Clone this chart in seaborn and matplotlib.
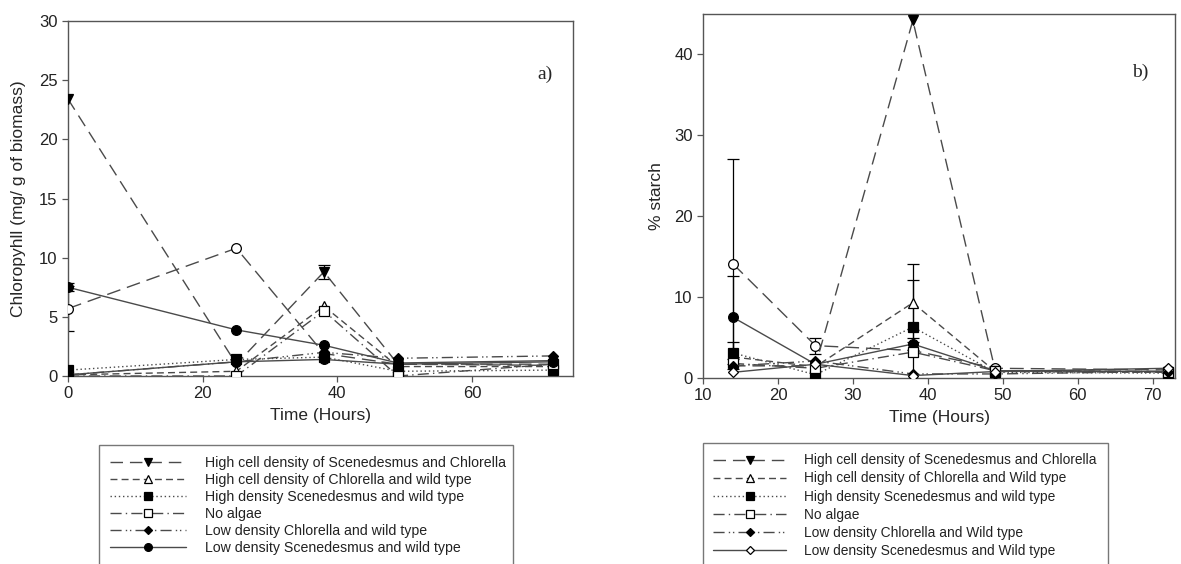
import numpy as np
import pandas as pd
import matplotlib
matplotlib.use("Agg")
import matplotlib.pyplot as plt
import seaborn as sns

# ---- data: a) chlorophyll ----
time_a = [0, 25, 38, 49, 72]
a_hi_scen_chl = [23.4, 1.0, 8.8, 1.0, 1.0]
a_hi_chl_wt = [0.1, 0.4, 5.9, 0.8, 0.8]
a_hi_scen_wt = [0.5, 1.4, 1.6, 0.4, 0.5]
a_no_algae = [0.0, 0.0, 5.5, 0.0, 1.0]
a_lo_chl_wt = [0.1, 1.2, 2.0, 1.5, 1.7]
a_lo_scen_wt = [0.1, 1.2, 1.4, 1.0, 1.2]
a_extra_fill = [7.5, 3.9, 2.6, 1.1, 1.3]
a_extra_open = [5.7, 10.8, 1.9, 1.0, 0.9]

# ---- data: b) starch ----
time_b = [14, 25, 38, 49, 72]
b_hi_scen_chl = [1.5, 1.5, 44.2, 0.9, 0.8]
b_hi_chl_wt = [2.6, 1.4, 9.3, 0.8, 0.7]
b_hi_scen_wt = [3.1, 0.4, 6.3, 0.7, 0.6]
b_no_algae = [1.8, 1.2, 3.2, 0.9, 0.8]
b_lo_chl_wt = [1.5, 2.1, 0.5, 0.5, 0.8]
b_lo_scen_wt = [0.7, 1.7, 0.3, 0.8, 1.2]
b_extra_fill = [7.5, 1.7, 4.2, 0.9, 0.8]
b_extra_open = [14.1, 4.0, 3.4, 1.2, 1.0]

# error bars (0 = none drawn)
a_err_extra_open = [1.9, 0, 0, 0, 0]
a_err_extra_fill = [0.35, 0, 0, 0, 0]
a_err_hi_scen_chl = [0, 0, 0.6, 0, 0]
b_err_extra_open = [13.0, 1.0, 0, 0, 0]
b_err_extra_fill = [5.1, 0, 0.8, 0, 0]
b_err_hi_scen_wt = [1.4, 0, 5.8, 0, 0]
b_err_hi_chl_wt = [0, 0, 4.8, 0, 0]

labels_a = ["High cell density of Scenedesmus and Chlorella",
            "High cell density of Chlorella and wild type",
            "High density Scenedesmus and wild type",
            "No algae",
            "Low density Chlorella and wild type",
            "Low density Scenedesmus and wild type"]
labels_b = ["High cell density of Scenedesmus and Chlorella",
            "High cell density of Chlorella and Wild type",
            "High density Scenedesmus and wild type",
            "No algae",
            "Low density Chlorella and Wild type",
            "Low density Scenedesmus and Wild type"]

sns.set_style("ticks")
plt.rcParams["font.family"] = ["Liberation Sans", "DejaVu Sans"]

LC = "#4a4a4a"
styles = {
    "tri_down": dict(marker="v", mfc="black", ls=(0, (9, 5))),
    "tri_open": dict(marker="^", mfc="white", ls=(0, (5, 3))),
    "sq_fill": dict(marker="s", mfc="black", ls=(0, (1, 2))),
    "sq_open": dict(marker="s", mfc="white", ls=(0, (8, 3, 1, 3))),
    "dia_fill": dict(marker="D", mfc="black", ls=(0, (8, 3, 1, 2, 1, 3))),
    "dia_open": dict(marker="D", mfc="white", ls="-"),
    "circ_fill": dict(marker="o", mfc="black", ls="-"),
    "circ_open": dict(marker="o", mfc="white", ls=(0, (10, 5))),
}


def draw(ax, x, y, key, label=None):
    st = styles[key]
    ms = 5.5 if st["marker"] == "D" else 7
    sns.lineplot(x=x, y=y, ax=ax, color=LC, linewidth=1.0, linestyle=st["ls"],
                 marker=st["marker"], markersize=ms, markerfacecolor=st["mfc"],
                 markeredgecolor="black", markeredgewidth=0.9, label=label,
                 legend=False, zorder=3)


def err(ax, x, y, e):
    e = np.array(e, dtype=float)
    m = e > 0
    ax.errorbar(np.array(x)[m], np.array(y)[m], yerr=e[m], fmt="none",
                ecolor="black", elinewidth=0.9, capsize=4.5, capthick=0.9, zorder=2)


fig = plt.figure(figsize=(11.81, 5.64), dpi=100)
ax1 = fig.add_axes([0.0576, 0.3333, 0.4276, 0.6294])
ax2 = fig.add_axes([0.5953, 0.3298, 0.3997, 0.6454])

# a)
draw(ax1, time_a, a_extra_open, "circ_open")
draw(ax1, time_a, a_extra_fill, "circ_fill")
draw(ax1, time_a, a_hi_scen_chl, "tri_down", labels_a[0])
draw(ax1, time_a, a_hi_chl_wt, "tri_open", labels_a[1])
draw(ax1, time_a, a_hi_scen_wt, "sq_fill", labels_a[2])
draw(ax1, time_a, a_no_algae, "sq_open", labels_a[3])
draw(ax1, time_a, a_lo_chl_wt, "dia_fill", labels_a[4])
draw(ax1, time_a, a_lo_scen_wt, "circ_fill", labels_a[5])
err(ax1, time_a, a_extra_open, a_err_extra_open)
err(ax1, time_a, a_extra_fill, a_err_extra_fill)
err(ax1, time_a, a_hi_scen_chl, a_err_hi_scen_chl)

# b)
draw(ax2, time_b, b_extra_open, "circ_open")
draw(ax2, time_b, b_extra_fill, "circ_fill")
draw(ax2, time_b, b_hi_scen_chl, "tri_down", labels_b[0])
draw(ax2, time_b, b_hi_chl_wt, "tri_open", labels_b[1])
draw(ax2, time_b, b_hi_scen_wt, "sq_fill", labels_b[2])
draw(ax2, time_b, b_no_algae, "sq_open", labels_b[3])
draw(ax2, time_b, b_lo_chl_wt, "dia_fill", labels_b[4])
draw(ax2, time_b, b_lo_scen_wt, "dia_open", labels_b[5])
err(ax2, time_b, b_extra_open, b_err_extra_open)
err(ax2, time_b, b_extra_fill, b_err_extra_fill)
err(ax2, time_b, b_hi_scen_wt, b_err_hi_scen_wt)
err(ax2, time_b, b_hi_chl_wt, b_err_hi_chl_wt)

ax1.set_xlim(0, 75)
ax1.set_ylim(0, 30)
ax1.set_xticks([0, 20, 40, 60])
ax1.set_yticks([0, 5, 10, 15, 20, 25, 30])
ax1.set_ylabel("Chloropyhll (mg/ g of biomass)", fontsize=12.5, labelpad=9)
ax1.text(0.945, 0.85, "a)", transform=ax1.transAxes, fontsize=14,
         family="Liberation Serif", ha="center", va="center")

ax2.set_xlim(10, 73)
ax2.set_ylim(0, 45)
ax2.set_xticks([10, 20, 30, 40, 50, 60, 70])
ax2.set_yticks([0, 10, 20, 30, 40])
ax2.set_ylabel("% starch", fontsize=12.5, labelpad=7)
ax2.text(0.926, 0.84, "b)", transform=ax2.transAxes, fontsize=14,
         family="Liberation Serif", ha="center", va="center")

for ax in (ax1, ax2):
    ax.set_xlabel("Time (Hours)", fontsize=12.5, labelpad=5)
    for s in ax.spines.values():
        s.set_visible(True)
        s.set_color("#555555")
        s.set_linewidth(1.0)
    ax.tick_params(direction="out", length=4, width=0.9, color="#555555",
                   labelsize=12, labelcolor="#222222")

# legends below each panel
h1, l1 = ax1.get_legend_handles_labels()
h2, l2 = ax2.get_legend_handles_labels()
leg_kw = dict(loc="upper left", mode="expand", frameon=True,
              fancybox=False, handletextpad=1.3, borderpad=0.75,
              markerscale=0.8, edgecolor="#555555", borderaxespad=0,
              labelcolor="#222222")
lg1 = fig.legend(h1, l1, bbox_to_anchor=(0.0838, 0.0, 0.351, 0.211),
                 fontsize=10.2, handlelength=5.4, labelspacing=0.22, **leg_kw)
lg2 = fig.legend(h2, l2, bbox_to_anchor=(0.5953, 0.0, 0.343, 0.2145),
                 fontsize=9.9, handlelength=5.3, labelspacing=0.3, **leg_kw)
for lg in (lg1, lg2):
    lg.get_frame().set_linewidth(1.0)

fig.savefig("out.png", dpi=100)
